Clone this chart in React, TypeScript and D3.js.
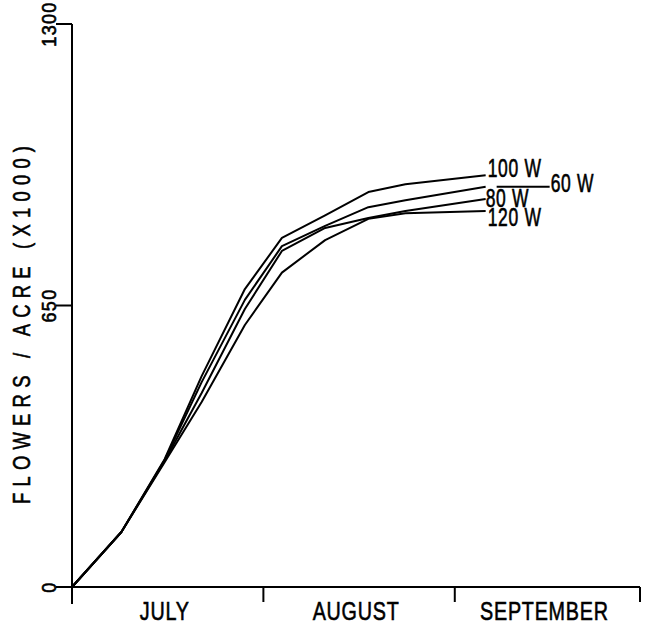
import * as d3 from 'd3';

// days since July 1 at which counts were taken
const days = [0, 8, 15, 21, 28, 34, 41, 48, 54, 67];

const w100 = [0, 127, 295, 487, 688, 806, 858, 912, 930, 951];
const w60 = [0, 127, 293, 473, 663, 787, 834, 877, 893, 924];
const w80 = [0, 127, 291, 448, 642, 776, 829, 852, 868, 896];
const w120 = [0, 127, 288, 427, 605, 726, 801, 850, 863, 868];

const seriesNames = ['100 W', '60 W', '80 W', '120 W'];
const seriesValues = [w100, w60, w80, w120];

const months = ['JULY', 'AUGUST', 'SEPTEMBER'];
const monthEnds = [0, 31, 62, 92];
const yTicks = [0, 650, 1300];

const FONT = "'Liberation Sans', Arial, sans-serif";

// label placement relative to line end: dx, dy, leader
const labelLayout = [
  { dx: 2, dy: 2, leader: 0 },
  { dx: 65, dy: 5, leader: 1 },
  { dx: 0, dy: 8, leader: 0 },
  { dx: 2, dy: 15, leader: 0 },
];

// plotter-like lettering: tall, narrow, slightly heavy
function Lettering({ x, y, rotate = 0, size, squeeze = 0.8, anchor = 'start', spacing = 0, length, children }: any) {
  return (
    <text
      transform={`translate(${x},${y}) rotate(${rotate}) scale(${squeeze},1)`}
      textAnchor={anchor}
      fontFamily={FONT}
      fontSize={size}
      letterSpacing={spacing}
      textLength={length ? length / squeeze : undefined}
      lengthAdjust={length ? 'spacing' : undefined}
      stroke="#000"
      strokeWidth={0.6}
      fill="#000"
    >
      {children}
    </text>
  );
}

export default function App() {
  const width = 653;
  const height = 628;

  const x = d3.scaleLinear().domain([0, 92]).range([72, 640]);
  const y = d3.scaleLinear().domain([0, 1300]).range([587, 24]);

  const line = d3
    .line<number>()
    .x((_, i) => x(days[i]))
    .y((d) => y(d));

  const last = days.length - 1;

  return (
    <svg
      width={width}
      height={height}
      style={{ position: 'absolute', left: 0, top: 0, background: '#fff' }}
    >
      {/* axes */}
      <g stroke="#000" strokeWidth={2} fill="none">
        <line x1={x(0)} x2={x(0)} y1={y(1300)} y2={y(0) + 17} />
        <line x1={x(0)} x2={x(92)} y1={y(0)} y2={y(0)} />
        {monthEnds.slice(1).map((d) => (
          <line key={d} x1={x(d)} x2={x(d)} y1={y(0)} y2={y(0) + 15} />
        ))}
        {yTicks.map((t) => (
          <line key={t} x1={x(0) - 16} x2={x(0)} y1={y(t)} y2={y(t)} />
        ))}
      </g>

      {/* y tick labels */}
      {yTicks.map((t) => (
        <Lettering key={t} x={56} y={y(t)} rotate={-90} size={20} squeeze={0.9} anchor="middle" spacing={1.5}>
          {t}
        </Lettering>
      ))}

      {/* y axis title */}
      <Lettering x={30} y={325} rotate={-90} size={23} squeeze={0.8} anchor="middle" length={358}>
        FLOWERS / ACRE (X1000)
      </Lettering>

      {/* month labels */}
      {months.map((m, i) => (
        <Lettering
          key={m}
          x={(x(monthEnds[i]) + x(monthEnds[i + 1])) / 2 - 3}
          y={620}
          size={26}
          squeeze={0.76}
          anchor="middle"
          spacing={1}
        >
          {m}
        </Lettering>
      ))}

      {/* series lines */}
      {seriesValues.map((vals, i) => (
        <path
          key={seriesNames[i]}
          d={line(vals) || ''}
          fill="none"
          stroke="#000"
          strokeWidth={2}
          strokeLinejoin="round"
        />
      ))}

      {/* series labels */}
      {seriesValues.map((vals, i) => {
        const ex = x(days[last]);
        const ey = y(vals[last]);
        const lay = labelLayout[i];
        return (
          <g key={seriesNames[i]}>
            {lay.leader ? (
              <line
                x1={ex + 11}
                x2={ex + lay.dx - 1}
                y1={ey}
                y2={ey}
                stroke="#000"
                strokeWidth={2}
              />
            ) : null}
            <Lettering x={ex + lay.dx} y={ey + lay.dy} size={25} squeeze={0.7} spacing={1}>
              {seriesNames[i]}
            </Lettering>
          </g>
        );
      })}
    </svg>
  );
}
